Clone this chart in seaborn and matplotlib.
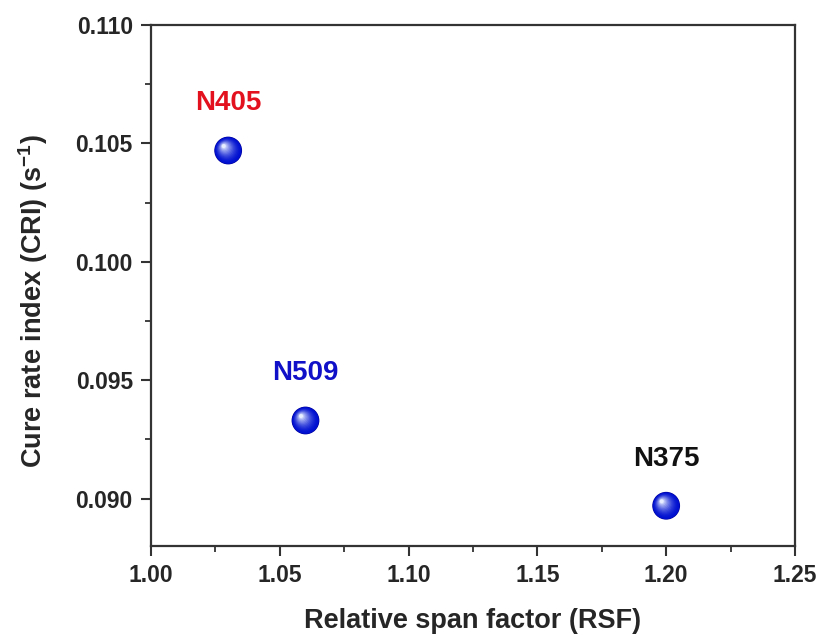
import numpy as np
import pandas as pd
import matplotlib
matplotlib.use("Agg")
import matplotlib.pyplot as plt
import matplotlib.transforms as mtransforms
from matplotlib.colors import to_rgb
import seaborn as sns

# data
grades = ["N405", "N509", "N375"]
rsf = [1.03, 1.06, 1.20]
cri = [0.1047, 0.0933, 0.0897]
label_colors = ["#e3101e", "#1010c8", "#111111"]

df = pd.DataFrame({"grade": grades, "rsf": rsf, "cri": cri})

sns.set_style("ticks")
plt.rcParams["font.family"] = ["Liberation Sans", "DejaVu Sans"]
plt.rcParams["font.weight"] = "bold"
plt.rcParams["mathtext.fontset"] = "custom"
plt.rcParams["mathtext.rm"] = "Liberation Sans:bold"
plt.rcParams["mathtext.bf"] = "Liberation Sans:bold"

fig = plt.figure(figsize=(8.2, 6.38), dpi=100)
ax = fig.add_axes([0.184, 0.1442, 0.7855, 0.8166])

# base of the sphere
sns.scatterplot(data=df, x="rsf", y="cri", ax=ax, s=400, color="#00009a",
                edgecolor="none", legend=False, zorder=3)

# fake 3D shading: lighter discs shifted toward the upper left
dark = np.array(to_rgb("#0010d0"))
light = np.array(to_rgb("#e6eeff"))
n = 14
for i in range(n):
    t = i / (n - 1)
    col = dark + (light - dark) * t ** 1.8
    size = 360 * (1 - t) ** 1.6 + 8
    shift = 3.2 * t
    off = mtransforms.ScaledTranslation(-shift / 72, shift / 72, fig.dpi_scale_trans)
    ax.scatter(df["rsf"], df["cri"], s=size, color=col, edgecolor="none",
               transform=ax.transData + off, zorder=4)

for g, x, y, c in zip(grades, rsf, cri, label_colors):
    ax.annotate(g, (x, y), xytext=(0, 34), textcoords="offset points",
                ha="center", va="center", color=c, fontsize=20, fontweight="bold")

ax.set_xlim(1.00, 1.25)
ax.set_ylim(0.088, 0.110)
ax.set_xticks(np.arange(1.00, 1.2501, 0.05))
ax.set_yticks(np.arange(0.090, 0.1101, 0.005))
ax.set_xticks(np.arange(1.025, 1.25, 0.05), minor=True)
ax.set_yticks(np.arange(0.0925, 0.110, 0.005), minor=True)
ax.xaxis.set_major_formatter(matplotlib.ticker.FormatStrFormatter("%.2f"))
ax.yaxis.set_major_formatter(matplotlib.ticker.FormatStrFormatter("%.3f"))

for side in ["top", "right", "bottom", "left"]:
    ax.spines[side].set_visible(True)
    ax.spines[side].set_linewidth(1.6)
    ax.spines[side].set_color("#333333")
ax.tick_params(which="major", direction="out", length=7, width=1.5,
               labelsize=16.5, color="#333333", pad=6)
ax.tick_params(which="minor", direction="out", length=4, width=1.3, color="#333333")
for lab in ax.get_xticklabels() + ax.get_yticklabels():
    lab.set_fontweight("bold")

ax.set_xlabel("Relative span factor (RSF)", fontsize=19.5, fontweight="bold", labelpad=15)
ax.set_ylabel("Cure rate index (CRI) (s$^{-1}$)", fontsize=19.5, fontweight="bold", labelpad=18)
ax.yaxis.label.set_y(0.47)

fig.savefig("out.png", dpi=100, facecolor="white")
